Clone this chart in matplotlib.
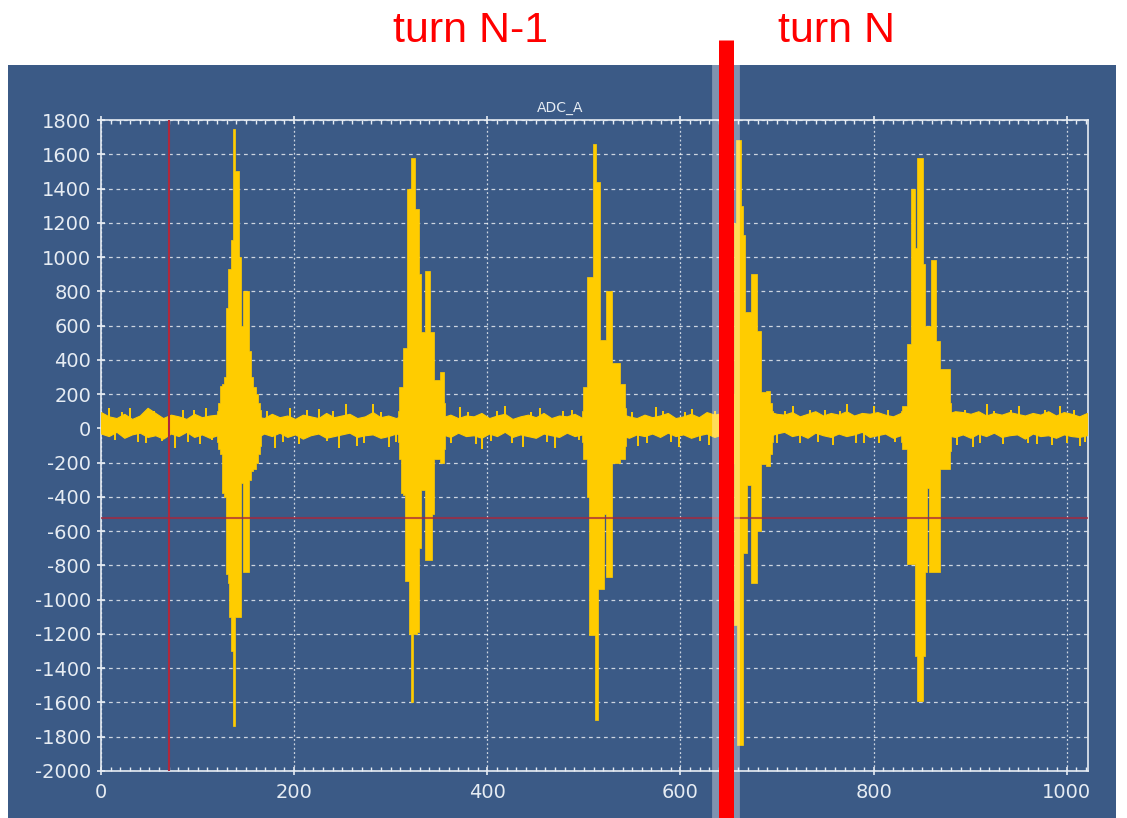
import numpy as np
import matplotlib
matplotlib.use("Agg")
import matplotlib.pyplot as plt
import matplotlib.transforms as mtransforms
from matplotlib.lines import Line2D
from matplotlib.patches import Rectangle

plt.rcParams["axes.unicode_minus"] = False

# ============================================================
# Data (ADC_A, 1024 samples)
# ============================================================

# baseline noise envelope, evenly spread over the record
base_hi = [95, 70, 60, 85, 55, 75, 120, 90,
           60, 80, 70, 55, 85, 65, 75, 80,
           90, 85, 80, 90, 70, 60, 85, 65,
           75, 55, 80, 70, 60, 90, 65, 75,
           85, 60, 70, 95, 65, 75, 60, 80,
           85, 90, 85, 90, 65, 80, 60, 75,
           70, 90, 60, 75, 85, 55, 70, 80,
           65, 90, 60, 75, 70, 85, 60, 80,
           85, 90, 80, 85, 70, 60, 80, 65,
           75, 90, 60, 70, 85, 65, 95, 80,
           90, 100, 90, 95, 90, 85, 100, 85,
           80, 95, 70, 85, 100, 75, 90, 80,
           100, 75, 90, 85, 95, 80, 70, 90,
           95, 90, 90, 95, 90, 85, 100, 95,
           85, 100, 75, 90, 80, 95, 85, 75,
           90, 80, 100, 75, 95, 85, 70, 90]
base_lo = [-30, -45, -20, -55, -35, -25, -50, -40,
           -60, -30, -45, -20, -50, -35, -55, -40,
           -40, -45, -50, -40, -55, -30, -45, -25,
           -50, -35, -60, -40, -30, -55, -45, -35,
           -25, -50, -40, -35, -55, -45, -30, -40,
           -45, -40, -50, -45, -35, -50, -25, -45,
           -40, -55, -30, -45, -20, -50, -35, -45,
           -55, -30, -40, -50, -25, -45, -35, -40,
           -45, -40, -50, -40, -55, -35, -45, -30,
           -50, -25, -45, -35, -55, -40, -30, -50,
           -35, -40, -45, -40, -50, -40, -45, -30,
           -20, -45, -35, -55, -25, -40, -50, -30,
           -45, -35, -20, -50, -40, -30, -55, -40,
           -40, -45, -50, -40, -45, -40, -50, -35,
           -55, -30, -45, -25, -50, -40, -35, -60,
           -30, -45, -40, -55, -35, -45, -50, -40]
last_sample = 1021

# isolated noise spikes (sample, value)
spike_x = [8, 15, 22, 30, 38, 47, 55, 63, 77, 85, 90, 96, 103, 109, 115,
           172, 180, 188, 196, 205, 213, 226, 234, 240, 246, 254, 265, 272, 282, 290, 298, 305,
           362, 372, 380, 388, 395, 404, 410, 418, 426, 437, 445, 455, 462, 470, 478, 488, 495,
           550, 556, 565, 575, 582, 590, 598, 605, 612, 620, 630, 636,
           689, 700, 708, 717, 724, 734, 742, 750, 758, 765, 772, 782, 790, 800, 806, 815, 822,
           886, 895, 903, 910, 917, 925, 934, 942, 951, 960, 969, 977, 985, 993, 1000, 1008,
           1014, 1019]
spike_y = [120, -70, 95, 117, -80, -88, 100, -75, -117, 105, -80, 110, -90, 117, -70,
           100, -117, -80, 120, -90, 105, 115, -75, 100, -117, 140, -100, -85, 140, 95, -110, -80,
           -85, 125, 95, -90, -120, -75, 100, 130, -85, -110, 95, 120, -80, -115, 100, 110, -70,
           95, -100, -85, 125, 100, -80, -110, 95, 115, -75, -95, 100,
           120, -85, 100, 130, -88, 105, -80, 110, -95, 100, 140, -88, -85, 130, -88, 110, -80,
           -95, 110, -110, -85, 145, 100, -90, 110, 130, -85, -90, 105, -95, 130, -88, 105,
           -100, -80]

# bunch signals: first sample, then upper / lower envelope every 2 samples
b1_start = 120
b1_hi = [100, 150, 250, 260, 300, 700, 930, 930, 1100, 1750, 1500, 1500,
         1000, 600, 800, 800, 800, 450, 300, 240, 240, 200, 150, 110]
b1_lo = [-80, -120, -150, -380, -400, -850, -900, -1100, -1300, -1740, -1100, -1100,
         -1100, -320, -840, -840, -840, -300, -250, -240, -240, -200, -150, -100]

b2_start = 308
b2_hi = [100, 240, 240, 470, 470, 1400, 1400, 1580, 1580, 1280, 1280, 900, 560,
         560, 920, 920, 920, 560, 560, 280, 280, 280, 330, 330, 150]
b2_lo = [-80, -180, -380, -390, -890, -890, -1200, -1600, -1200, -1200, -1190, -700, -360,
         -360, -770, -770, -770, -770, -500, -180, -180, -180, -200, -200, -120]

b3_start = 498
b3_hi = [100, 240, 240, 885, 885, 885, 1660, 1660, 1440, 1440, 515, 515,
         515, 804, 804, 804, 380, 380, 380, 380, 261, 261, 261, 120]
b3_lo = [-80, -180, -180, -400, -1205, -1205, -1205, -1700, -1700, -940, -940, -940,
         -500, -870, -870, -870, -200, -200, -200, -200, -180, -180, -180, -100]

b4_start = 654
b4_hi = [200, 1200, 1685, 1685, 1685, 1300, 1130, 680, 680, 680, 900,
         900, 900, 570, 570, 210, 210, 210, 218, 218, 150, 100]
b4_lo = [-200, -1150, -1150, -1850, -1850, -1850, -730, -730, -330, -330, -900,
         -900, -900, -600, -600, -210, -210, -210, -218, -218, -150, -80]

b5_start = 828
b5_hi = [100, 130, 130, 130, 490, 490, 1400, 1400, 1050, 1580, 1580, 1580, 960, 600,
         600, 600, 984, 984, 984, 510, 510, 344, 344, 344, 344, 344, 150]
b5_lo = [-80, -120, -120, -120, -790, -790, -790, -790, -1330, -1590, -1590, -1590, -1330, -840,
         -350, -840, -840, -840, -840, -840, -840, -240, -240, -240, -240, -240, -130]

bunches = [(b1_start, b1_hi, b1_lo), (b2_start, b2_hi, b2_lo), (b3_start, b3_hi, b3_lo),
           (b4_start, b4_hi, b4_lo), (b5_start, b5_hi, b5_lo)]

# cursors and annotation
cursor_x = 70
cursor_y = -525
turn_sample = 647

# ============================================================
# Style
# ============================================================

panel_blue = "#3b5a86"
trace_yellow = "#ffcc00"
fg = "#e6ecf3"

fig = plt.figure(figsize=(11.27, 8.18), dpi=100, facecolor="white")
fig.patches.append(Rectangle((8 / 1127, 0), 1108 / 1127, 753 / 818,
                             transform=fig.transFigure, facecolor=panel_blue,
                             edgecolor="none", zorder=-10))

ax = fig.add_axes([101 / 1127, 47 / 818, 987 / 1127, 651 / 818])
ax.set_zorder(1)
ax.set_facecolor(panel_blue)

# ------------------------------------------------------------
# Trace
# ------------------------------------------------------------
base_x = np.linspace(0, last_sample, len(base_hi))
ax.fill_between(base_x, base_lo, base_hi, color=trace_yellow, lw=0.8, zorder=3)
ax.vlines(spike_x, 0, spike_y, color=trace_yellow, lw=1.4, zorder=3)

for start, hi, lo in bunches:
    x = np.arange(start, start + 2 * len(hi), 2)
    ax.fill_between(x, lo, hi, step="mid", color=trace_yellow, lw=0.5, zorder=3)

# ------------------------------------------------------------
# Cursors
# ------------------------------------------------------------
ax.axvline(cursor_x, color="#b0283c", lw=1.5, zorder=4)
ax.axhline(cursor_y, color="#a8283c", lw=1.5, alpha=0.75, zorder=4)

# ------------------------------------------------------------
# Axes
# ------------------------------------------------------------
ax.set_xlim(0, 1022)
ax.set_ylim(-2000, 1800)
ax.set_xticks(np.arange(0, 1001, 200))
ax.set_yticks(np.arange(-2000, 1801, 200))
ax.set_xticks(np.arange(0, 1021, 10), minor=True)

ax.xaxis.grid(True, color="white", linestyle=(0, (1.5, 2)), lw=0.9, alpha=0.75)
ax.yaxis.grid(True, color="white", linestyle=(0, (3, 3)), lw=0.9, alpha=0.75)
ax.set_axisbelow(True)

for side in ["top", "bottom", "left", "right"]:
    ax.spines[side].set_color(fg)
    ax.spines[side].set_linewidth(1.2)

ax.tick_params(axis="both", which="major", colors=fg, labelsize=14, length=6,
               direction="inout", width=1.2, pad=4)
ax.tick_params(axis="x", which="minor", colors=fg, length=3, direction="in",
               top=True, bottom=True, width=1)
ax.tick_params(axis="x", which="major", top=True, pad=6)

fig.text(560 / 1127, 1 - 108 / 818, "ADC_A", color=fg, fontsize=10,
         ha="center", va="center")

# ------------------------------------------------------------
# Turn boundary marker
# ------------------------------------------------------------
trans = mtransforms.blended_transform_factory(ax.transData, fig.transFigure)
glow = Line2D([turn_sample, turn_sample], [0, 1 - 65 / 818], transform=trans,
              color="white", lw=20, alpha=0.35, clip_on=False, zorder=5)
bar = Line2D([turn_sample, turn_sample], [0, 1 - 40 / 818], transform=trans,
             color="#ff0000", lw=10.8, solid_capstyle="butt", clip_on=False, zorder=6)
fig.add_artist(glow)
fig.add_artist(bar)

fig.text(471 / 1127, 1 - 31 / 818, "turn N-1", color="#ff0000", fontsize=31,
         family="Liberation Sans", ha="center", va="center")
fig.text(837 / 1127, 1 - 31 / 818, "turn N", color="#ff0000", fontsize=31,
         family="Liberation Sans", ha="center", va="center")

fig.savefig("out.png", dpi=100, facecolor="white")
